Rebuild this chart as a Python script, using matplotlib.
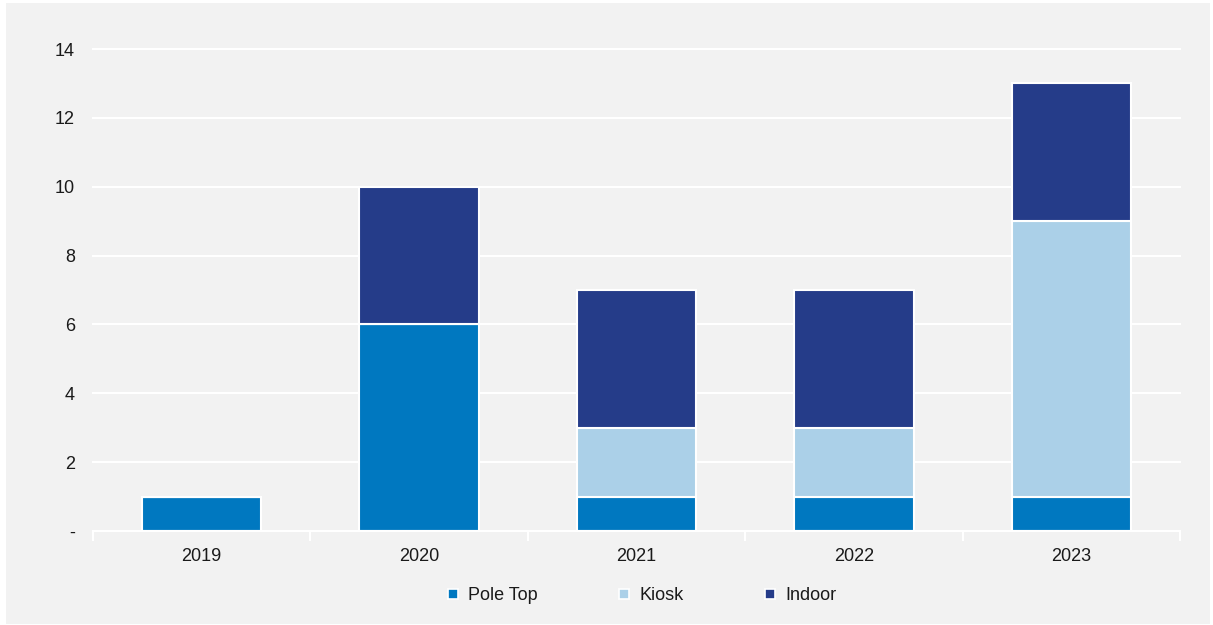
import matplotlib
matplotlib.use("Agg")
import matplotlib.pyplot as plt
from matplotlib.patches import Rectangle
from matplotlib.lines import Line2D
import numpy as np

plt.rcParams['font.family'] = ['Liberation Sans', 'DejaVu Sans']

years = ["2019", "2020", "2021", "2022", "2023"]
pole_top = [1, 6, 1, 1, 1]
kiosk = [0, 0, 2, 2, 8]
indoor = [0, 4, 4, 4, 4]
series_names = ["Pole Top", "Kiosk", "Indoor"]
colors = ["#0078C0", "#ABD0E8", "#253C89"]
y_ticks = [0, 2, 4, 6, 8, 10, 12, 14]
y_labels = ["-", "2", "4", "6", "8", "10", "12", "14"]

W, H = 1213, 625
fs = 13
fig = plt.figure(figsize=(W / 100, H / 100), dpi=100)
fig.patch.set_facecolor("white")
bg = "#F2F2F2"
fig.add_artist(Rectangle((6 / W, 1 / H), (1210 - 6) / W, (622 - 1) / H,
                         transform=fig.transFigure, facecolor=bg,
                         edgecolor="none", zorder=-10))

ax = fig.add_axes([93 / W, (625 - 531) / H, (1180 - 93) / W, (531 - 49) / H])
ax.set_facecolor(bg)
ax.patch.set_alpha(0)

x = np.arange(len(years))
width = 0.55
bottom = np.zeros(len(years))
for vals, name, col in zip([pole_top, kiosk, indoor], series_names, colors):
    vals = np.array(vals, dtype=float)
    ax.bar(x, vals, width, bottom=bottom, color=col, edgecolor="white",
           linewidth=1.5, label=name, zorder=3)
    bottom += vals

ax.set_xlim(-0.5, len(years) - 0.5)
ax.set_ylim(0, 14)
ax.set_yticks(y_ticks)
ax.set_yticklabels(y_labels)
for t in y_ticks[1:]:
    ax.axhline(t, color="white", linewidth=1.5, zorder=1, clip_on=False)

for s in ["top", "right", "left"]:
    ax.spines[s].set_visible(False)
ax.spines["bottom"].set_color("white")
ax.spines["bottom"].set_linewidth(1.5)
ax.spines["bottom"].set_zorder(4)

ax.set_xticks(np.arange(-0.5, len(years), 1.0))
ax.set_xticklabels([])
ax.set_xticks(x, minor=True)
ax.set_xticklabels(years, minor=True)
ax.tick_params(axis="x", which="major", length=7, width=1.5, color="white")
ax.tick_params(axis="x", which="minor", length=0, pad=12, labelsize=fs,
               labelcolor="#1a1a1a")
ax.tick_params(axis="y", length=0, pad=13, labelsize=fs, labelcolor="#1a1a1a")

handles = [Line2D([0], [0], marker="s", linestyle="none", markersize=7,
                  markerfacecolor=c, markeredgecolor="white",
                  markeredgewidth=1.2) for c in colors]
leg = fig.legend(handles, series_names, loc="center",
                 bbox_to_anchor=(642 / W, (625 - 596) / H), ncol=3,
                 frameon=False, fontsize=fs, handlelength=0.6,
                 handletextpad=0.55, columnspacing=4.5)
for t in leg.get_texts():
    t.set_color("#1a1a1a")

fig.savefig("out.png", dpi=100, facecolor=fig.get_facecolor())
